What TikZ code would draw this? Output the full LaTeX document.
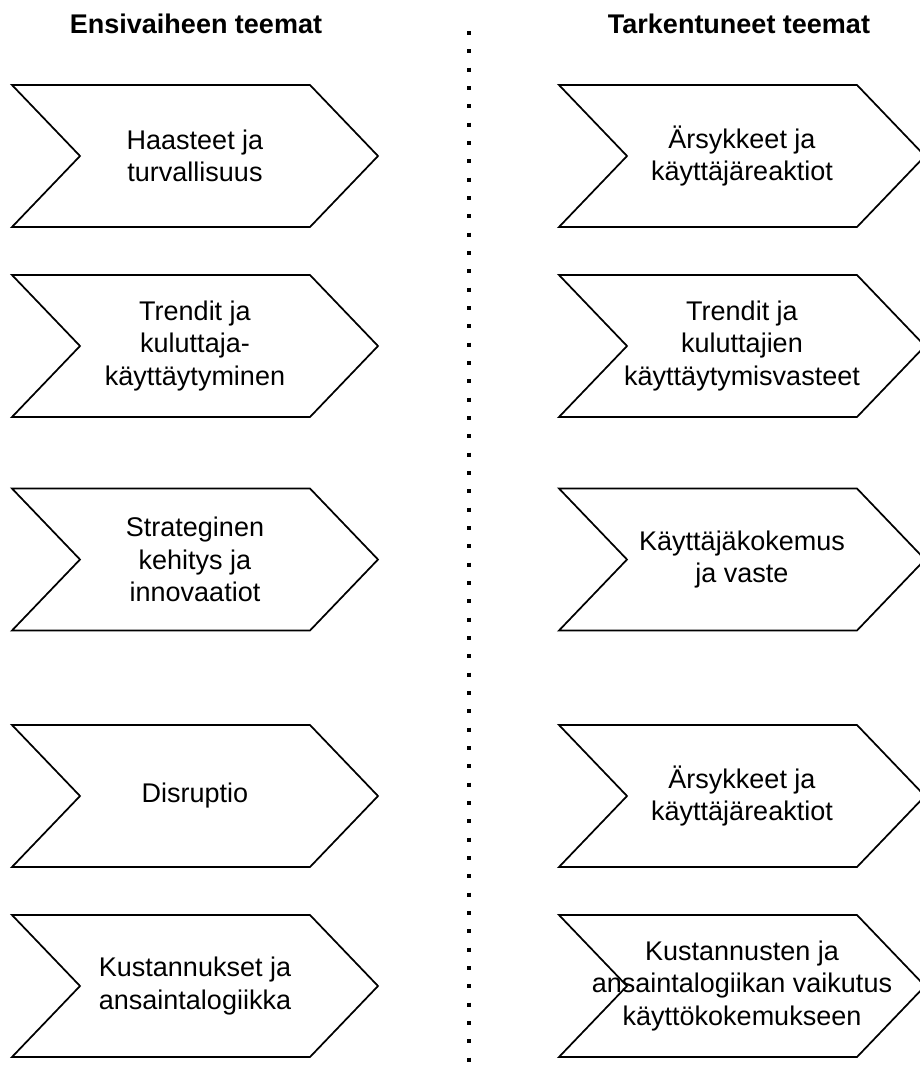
\documentclass[tikz,border=0pt]{standalone}
\usepackage{fontspec}
\setmainfont{Liberation Sans}
\begin{document}
\begin{tikzpicture}[x=0.75pt,y=-0.75pt]
\tikzset{
  chevline/.style={draw=black, line width=1.3pt, line join=miter},
  themetext/.style={align=center, inner sep=0pt, font=\fontsize{20.25}{24.4}\selectfont},
  heading/.style={inner sep=0pt, font=\bfseries\fontsize{20.25}{24.4}\selectfont},
  divider/.style={line width=3pt, dash pattern=on 3pt off 10.75pt},
  pics/chev/.style={code={
    \draw[chevline] (-183,-71) -- (115,-71) -- (183,0) -- (115,71)
      -- (-183,71) -- (-115,0) -- cycle;
  }}
}
% page frame
\clip (0,0) rectangle (920,1068);
\useasboundingbox (0,0) rectangle (920,1068);

% column headings
\node[heading] (hl) at (196,24) {Ensivaiheen teemat};
\node[heading] (hr) at (739,24) {Tarkentuneet teemat};

% dotted divider
\coordinate (dtop) at (469,31);
\coordinate (dbot) at (469,1072);
\draw[divider] (dtop) -- (dbot);

% first-stage themes
\pic at (195,156) {chev};
\node[themetext] (l1) at (195,156) {Haasteet ja\\turvallisuus};
\pic at (195,346) {chev};
\node[themetext] (l2) at (195,346) {Trendit ja\\kuluttaja-\\käyttäytyminen};
\pic at (195,559.5) {chev};
\node[themetext] (l3) at (195,559.5) {Strateginen\\kehitys ja\\innovaatiot};
\pic at (195,796) {chev};
\node[themetext] (l4) at (195,796) {Disruptio};
\pic at (195,986) {chev};
\node[themetext] (l5) at (195,986) {Kustannukset ja\\ansaintalogiikka};

% refined themes
\pic at (742,156) {chev};
\node[themetext] (r1) at (742,156) {Ärsykkeet ja\\käyttäjäreaktiot};
\pic at (742,346) {chev};
\node[themetext] (r2) at (742,346) {Trendit ja\\kuluttajien\\käyttäytymisvasteet};
\pic at (742,559.5) {chev};
\node[themetext] (r3) at (742,559.5) {Käyttäjäkokemus\\ja vaste};
\pic at (742,796) {chev};
\node[themetext] (r4) at (742,796) {Ärsykkeet ja\\käyttäjäreaktiot};
\pic at (742,986) {chev};
\node[themetext] (r5) at (742,986) {Kustannusten ja\\ansaintalogiikan vaikutus\\käyttökokemukseen};
\end{tikzpicture}
\end{document}
